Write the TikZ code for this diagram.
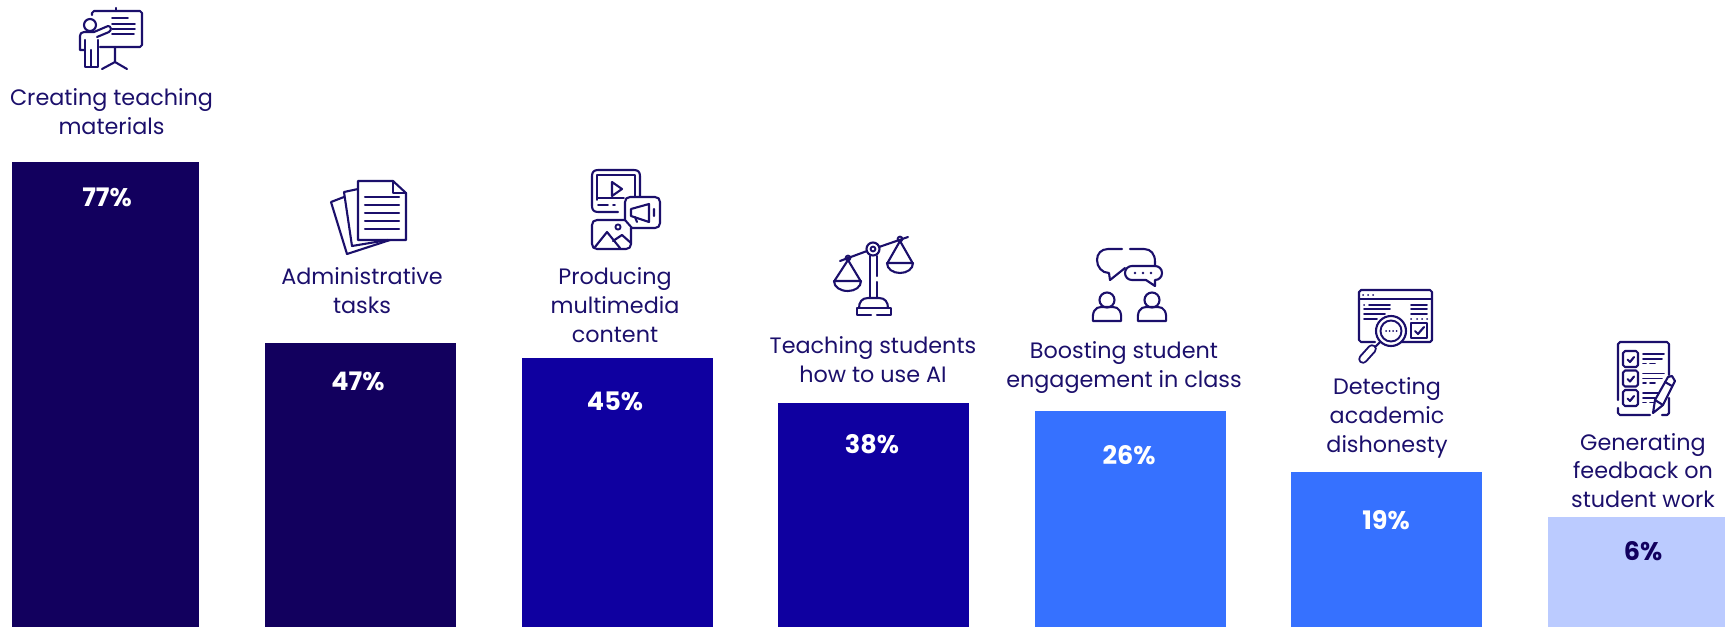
\documentclass[tikz,border=0pt]{standalone}
\usepackage{fontspec}
\setmainfont{Poppins}
\definecolor{inkc}{HTML}{1B0F6B}
\definecolor{navyc}{HTML}{12005E}
\definecolor{royalc}{HTML}{0F00A0}
\definecolor{bluec}{HTML}{3671FF}
\definecolor{palec}{HTML}{BBCBFF}
\tikzset{
 lab/.style={anchor=base,align=center,text=inkc,inner sep=0pt,font=\fontsize{22.3}{28.6}\selectfont},
 pct/.style={anchor=base,text=white,inner sep=0pt,font=\fontsize{25.5}{26}\selectfont\bfseries},
 ico/.style={draw=inkc,line width=2.1pt,line cap=round,line join=round},
 thin ico/.style={ico,line width=1.9pt},
}
\begin{document}
\begin{tikzpicture}[x=1pt,y=-1pt]
\useasboundingbox (0,0) rectangle (1725,627);
% bars
\fill[navyc] (12,162) rectangle (199,627);
\fill[navyc] (265,343) rectangle (456,627);
\fill[royalc] (522,358) rectangle (713,627);
\fill[royalc] (778,403) rectangle (969,627);
\fill[bluec] (1035,411) rectangle (1226,627);
\fill[bluec] (1291,472) rectangle (1482,627);
\fill[palec] (1548,517) rectangle (1725,627);
% percent
\node[pct] (p1) at (107,206) {77\%};
\node[pct] (p2) at (358,390) {47\%};
\node[pct] (p3) at (615,410) {45\%};
\node[pct] (p4) at (872,453) {38\%};
\node[pct] (p5) at (1129,464) {26\%};
\node[pct] (p6) at (1386,529) {19\%};
\node[pct,text=navyc] (p7) at (1643,560) {6\%};
% labels
\node[lab] (l1) at (111.5,134) {Creating teaching\\materials};
\node[lab] (l2) at (362,313) {Administrative\\tasks};
\node[lab] (l3) at (615,342) {Producing\\multimedia\\content};
\node[lab] (l4) at (873,382) {Teaching students\\how to use AI};
\node[lab] (l5) at (1124,387) {Boosting student\\engagement in class};
\node[lab] (l6) at (1387,452) {Detecting\\academic\\dishonesty};
\node[lab] (l7) at (1643,507.5) {Generating\\feedback on\\student work};
% icon 1: presentation
\draw[ico] (116,8) -- (116,11);
\draw[ico] (92,15) -- (92,13) -- (94,11) -- (140,11) -- (142,13) -- (142,45) -- (140,47) -- (100,47);
\draw[thin ico] (112,18) -- (128,18) (112,24) -- (135,24) (112,29) -- (135,29) (112,34) -- (134,34);
\draw[ico] (115,47) -- (115,62) (102,69) -- (115,62) -- (127,69);
\draw[ico] (90,25) circle (6);
\draw[ico] (97,37) -- (109,32) .. controls (112,30) and (111,26) .. (108,26) -- (94,32) -- (84,32) .. controls (81,32) and (80,34) .. (80,36) -- (80,50) -- (85,50);
\draw[ico] (85,40) -- (85,67) -- (91,67) -- (91,50) (91,67) -- (98,67) -- (98,40);
% icon 2: documents
\draw[ico] (358,181) -- (393,181) -- (406,193) -- (406,240) -- (358,240) -- cycle;
\draw[ico] (393,181) -- (393,193) -- (406,193);
\draw[ico] (365,197) -- (399,197) (365,205) -- (399,205) (365,213) -- (399,213) (365,221) -- (399,221) (365,229) -- (399,229);
\draw[ico] (358,189) -- (344,192) -- (352,246) -- (388,240);
\draw[ico] (344,197) -- (331,202) -- (347,254) -- (390,240);
% icon 3: media
\draw[ico] (618,212) -- (598,212) .. controls (594,212) and (592,210) .. (592,206) -- (592,176) .. controls (592,172) and (594,170) .. (598,170) -- (634,170) .. controls (638,170) and (640,172) .. (640,176) -- (640,196);
\draw[thin ico] (597,200) -- (597,175) -- (635,175) -- (635,197);
\draw[thin ico] (597,198) -- (624,198);
\draw[ico] (612,182) -- (622,189) -- (612,196) -- cycle;
\draw[thin ico] (598,205) -- (608,205) (613,205) -- (615,205);
\draw[ico] (630,197) -- (655,197) .. controls (658,197) and (660,199) .. (660,202) -- (660,223) .. controls (660,226) and (658,228) .. (655,228) -- (632,228) -- (625,220) -- (625,202) .. controls (625,199) and (627,197) .. (630,197) -- cycle;
\draw[ico] (631,209) -- (649,204) -- (649,222) -- (631,216) -- cycle;
\draw[ico] (635,217) -- (637,222) (654,209) -- (654,216);
\draw[ico] (625,220) -- (597,220) .. controls (594,220) and (592,222) .. (592,225) -- (592,244) .. controls (592,247) and (594,249) .. (597,249) -- (626,249) .. controls (629,249) and (631,247) .. (631,244) -- (631,228);
\draw[thin ico] (618,227) circle (2.6);
\draw[ico] (595,247) -- (607,232) -- (620,248) (613,241) -- (622,235) -- (631,243);
% icon 4: scales
\draw[ico] (873,249) circle (6.5);
\draw[thin ico] (873,249) circle (2.4);
\draw[ico] (840,261) -- (867,251) (879,247) -- (908,237);
\draw[thin ico] (848,258) circle (2.4) (900,239) circle (2.4);
\draw[ico] (835,280) -- (848,260) -- (860,280);
\draw[ico] (888,262) -- (900,241) -- (912,262);
\draw[ico] (834,281) -- (861,281) .. controls (861,287) and (855,291) .. (848,291) .. controls (840,291) and (834,287) .. (834,281) -- cycle;
\draw[ico] (887,263) -- (913,263) .. controls (913,269) and (907,273) .. (900,273) .. controls (893,273) and (887,269) .. (887,263) -- cycle;
\draw[ico] (870,256) -- (870,298) (877,256) -- (877,276) (877,282) -- (877,298);
\draw[ico] (859,308) .. controls (859,302) and (862,298) .. (868,298) -- (879,298) .. controls (885,298) and (888,302) .. (888,308);
\draw[ico] (871,315) -- (857,315) -- (857,308) -- (891,308) -- (891,315) -- (877,315);
% icon 5: chat and people
\draw[ico] (1122,249) -- (1108,249) .. controls (1101,249) and (1097,254) .. (1097,260) .. controls (1097,267) and (1102,273) .. (1109,273) -- (1110,280) -- (1125,268);
\draw[ico] (1130,249) -- (1144,249) .. controls (1151,249) and (1155,254) .. (1155,262) -- (1155,266);
\draw[ico] (1132,266) -- (1155,266) .. controls (1159,266) and (1162,269) .. (1162,273) .. controls (1162,277) and (1159,280) .. (1155,280) -- (1155,286) -- (1146,280) -- (1132,280) .. controls (1128,280) and (1125,277) .. (1125,273) .. controls (1125,269) and (1128,266) .. (1132,266) -- cycle;
\fill[inkc] (1135,273) circle (1.4) (1143,273) circle (1.4) (1151,273) circle (1.4);
\draw[ico] (1107,300) circle (7.5) (1152,300) circle (7.5);
\draw[ico] (1093,321) .. controls (1092,312) and (1095,307) .. (1101,307) -- (1113,307) .. controls (1119,307) and (1122,312) .. (1121,321) -- cycle;
\draw[ico] (1138,321) .. controls (1137,312) and (1140,307) .. (1146,307) -- (1158,307) .. controls (1164,307) and (1167,312) .. (1166,321) -- cycle;
% icon 6: window and magnifier
\draw[ico] (1375,342) -- (1361,342) -- (1359,340) -- (1359,292) -- (1361,290) -- (1430,290) -- (1432,292) -- (1432,340) -- (1430,342) -- (1400,342);
\draw[ico] (1359,299) -- (1432,299);
\draw[thin ico] (1363,295) -- (1363.1,295) (1368,295) -- (1368.1,295) (1373,295) -- (1373.1,295);
\draw[thin ico] (1364,305) -- (1364.1,305) (1369,305) -- (1390,305) (1364,309) -- (1390,309) (1364,314) -- (1385,314) (1364,319) -- (1377,319);
\draw[thin ico] (1411,305) -- (1427,305) (1411,309) -- (1427,309) (1411,314) -- (1427,314) (1411,319) -- (1411.1,319) (1417,319) -- (1417.1,319) (1422,319) -- (1422.1,319) (1427,319) -- (1427.1,319);
\draw[ico] (1411,323) rectangle (1427,338);
\draw[ico] (1415,331) -- (1418,334) -- (1424,327);
\fill[white] (1391,331) circle (15);
\draw[ico] (1391,331) circle (15);
\draw[thin ico] (1391,331) circle (10.5);
\draw[thin ico] (1386,331) -- (1386.1,331) (1389.5,331) -- (1389.6,331) (1393,331) -- (1393.1,331) (1396.5,331) -- (1396.6,331);
\draw[line width=9.5pt,draw=inkc,line cap=round] (1372,349) -- (1363,359);
\draw[line width=5.6pt,draw=white,line cap=round] (1372,349) -- (1363,359);
\draw[ico] (1380,342) -- (1375,347);
% icon 7: checklist
\draw[ico] (1669,375) -- (1669,344) -- (1667,342) -- (1620,342) -- (1618,344) -- (1618,400) (1618,408) -- (1618,413) -- (1620,415) -- (1650,415) (1662,415) -- (1667,415) -- (1669,413) -- (1669,398);
\foreach \yy in {351,370.5,390} {
 \draw[ico] (1625,\yy) -- (1636,\yy) -- (1638,\yy+2) -- (1638,\yy+14) -- (1636,\yy+16) -- (1625,\yy+16) -- (1623,\yy+14) -- (1623,\yy+2) -- cycle;
 \draw[ico] (1627.5,\yy+8.5) -- (1630,\yy+11) -- (1634,\yy+6);
 \draw[thin ico] (1643,\yy+3) -- (1664,\yy+3) (1643,\yy+8) -- (1662,\yy+8) (1643,\yy+12.5) -- (1646,\yy+12.5) (1650,\yy+12.5) -- (1655,\yy+12.5);
}
\fill[white] (1653,413) -- (1655,400) -- (1668,377) -- (1676,382) -- (1663,405) -- cycle;
\draw[ico] (1653,413) -- (1655,400) -- (1668,377) -- (1672,376) -- (1675,381) -- (1663,405) -- cycle;
\draw[ico] (1665,382) -- (1672,386) (1655,400) -- (1663,405);
\end{tikzpicture}
\end{document}
